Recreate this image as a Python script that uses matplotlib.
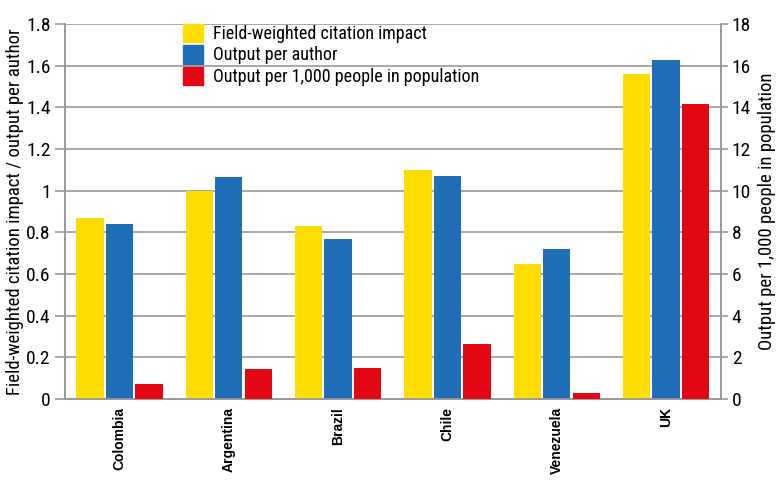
import numpy as np
import matplotlib
matplotlib.use("Agg")
import matplotlib.pyplot as plt
from matplotlib.patches import Patch

# datos
countries = ["Colombia", "Argentina", "Brazil", "Chile", "Venezuela", "UK"]
fwci = [0.87, 1.00, 0.83, 1.10, 0.65, 1.56]
output_author = [0.84, 1.065, 0.77, 1.07, 0.72, 1.63]
output_pop = [0.72, 1.42, 1.48, 2.65, 0.28, 14.15]

yellow = "#FFDD00"
blue = "#1F6EB7"
red = "#E30613"
grid_c = "#9a9a9a"

plt.rcParams["font.family"] = ["Roboto Condensed", "DejaVu Sans"]

fig = plt.figure(figsize=(7.8, 4.83), dpi=100)
ax = fig.add_axes([0.083, 0.174, 0.841, 0.776])
ax2 = ax.twinx()

x = np.arange(len(countries))
w = 0.25
d = 0.27
ax.bar(x - d, fwci, w, color=yellow, zorder=3)
ax.bar(x, output_author, w, color=blue, zorder=3)
ax2.bar(x + d, output_pop, w, color=red, zorder=3)

ax.set_xlim(-0.5, 5.5)
ax.set_ylim(0, 1.8)
ax2.set_ylim(0, 18)
ax.set_yticks(np.arange(0, 1.81, 0.2))
ax.set_yticklabels(["0", "0.2", "0.4", "0.6", "0.8", "1", "1.2", "1.4", "1.6", "1.8"])
ax2.set_yticks(np.arange(0, 19, 2))

ax.yaxis.grid(True, color=grid_c, linewidth=1.2, zorder=0)
ax.set_axisbelow(True)
ax.tick_params(axis="y", length=7, color=grid_c, width=1.2, labelsize=14, pad=3)
ax2.tick_params(axis="y", length=5, color=grid_c, width=1.2, labelsize=14, pad=3)
ax.tick_params(axis="x", length=0, pad=6)
ax.set_xticks(x)
ax.set_xticklabels(countries, rotation=90, fontsize=10, fontweight="bold",
                   family=["Arimo", "Liberation Sans", "DejaVu Sans"])

for a in (ax, ax2):
    for s in a.spines.values():
        s.set_color(grid_c)
        s.set_linewidth(1.2)
    a.spines["top"].set_visible(False)

ax.set_ylabel("Field-weighted citation impact / output per author", fontsize=13.5, labelpad=2)
ax2.set_ylabel("Output per 1,000 people in population", fontsize=13.5, labelpad=5)

# leyenda en dos partes
h1 = [Patch(color=yellow), Patch(color=blue)]
leg1 = ax.legend(h1, ["Field-weighted citation impact", "Output per author"],
                 loc="upper left", bbox_to_anchor=(0.155, 1.045), frameon=False,
                 fontsize=13, handlelength=1.1, handleheight=1.2, labelspacing=0.12,
                 handletextpad=0.6)
ax.add_artist(leg1)
ax.legend([Patch(color=red)], ["Output per 1,000 people in population"],
          loc="upper left", bbox_to_anchor=(0.155, 0.93), frameon=False,
          fontsize=13, handlelength=1.1, handleheight=1.2, handletextpad=0.6)

fig.savefig("out.png", dpi=100)
